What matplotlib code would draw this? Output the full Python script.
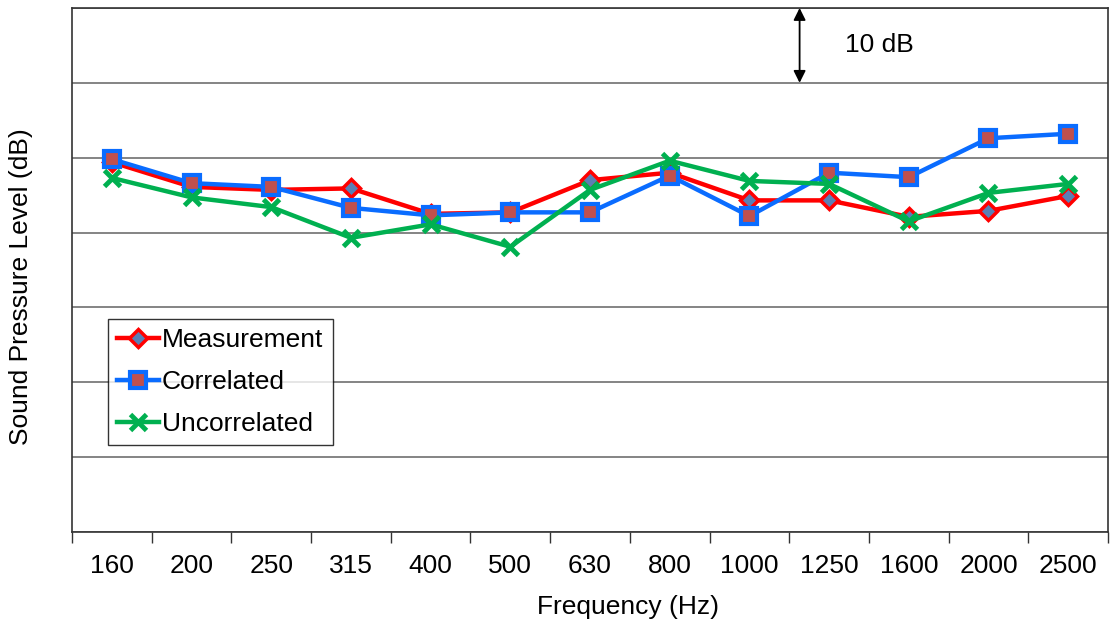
import matplotlib
matplotlib.use("Agg")
import matplotlib.pyplot as plt
import numpy as np

plt.rcParams['font.family'] = ['Liberation Sans', 'DejaVu Sans']

freqs = ['160', '200', '250', '315', '400', '500', '630', '800',
         '1000', '1250', '1600', '2000', '2500']
measurement = [49.4, 46.1, 45.7, 45.9, 42.5, 42.7, 47.0, 48.0, 44.3, 44.3, 42.1, 42.9, 44.9]
correlated = [49.8, 46.6, 46.1, 43.3, 42.3, 42.7, 42.7, 47.6, 42.2, 48.0, 47.4, 52.6, 53.2]
uncorrelated = [47.3, 44.7, 43.4, 39.3, 41.1, 38.1, 45.7, 49.6, 46.9, 46.5, 41.5, 45.3, 46.5]

fig = plt.figure(figsize=(11.1, 6.24), dpi=100)
ax = fig.add_axes([0.0649, 0.1474, 0.9333, 0.8398])

x = np.arange(len(freqs))

ax.plot(x, measurement, color='#FF0000', lw=3.2, marker='D', ms=9,
        mfc='#5A7FB5', mec='#FF0000', mew=2.5, label='Measurement', zorder=2)
ax.plot(x, correlated, color='#0A6CFF', lw=3.2, marker='s', ms=12,
        mfc='#C0504D', mec='#0A6CFF', mew=3, label='Correlated', zorder=3)
ax.plot(x, uncorrelated, color='#00B050', lw=3.2, marker='x', ms=11,
        mec='#00B050', mew=3.5, label='Uncorrelated', zorder=4)

ax.set_xlim(-0.5, len(freqs) - 0.5)
ax.set_ylim(0, 70)

# category boundaries carry the tick marks, labels sit in the middle
ax.set_xticks(np.arange(-0.5, len(freqs), 1.0))
ax.set_xticklabels([])
ax.set_xticks(x, minor=True)
ax.set_xticklabels(freqs, minor=True, fontsize=19)
ax.tick_params(axis='x', which='major', length=8, width=1, color='#333333')
ax.tick_params(axis='x', which='minor', length=0, pad=16)
ax.set_yticks(np.arange(0, 71, 10))
ax.set_yticklabels([])
ax.tick_params(axis='y', length=0)
ax.grid(axis='y', color='#707070', lw=1.2)
ax.set_axisbelow(True)
for s in ax.spines.values():
    s.set_color('#333333')
    s.set_linewidth(1.2)

ax.set_xlabel('Frequency (Hz)', fontsize=19)
ax.xaxis.set_label_coords(0.537, -0.121)
ax.set_ylabel('Sound Pressure Level (dB)', fontsize=19)
ax.yaxis.set_label_coords(-0.038, 0.468)

# 10 dB scale marker
ax.annotate('', xy=(8.63, 70), xytext=(8.63, 60),
            arrowprops=dict(arrowstyle='<|-|>', color='black', lw=1.3,
                            mutation_scale=18, shrinkA=0, shrinkB=0))
ax.text(9.2, 65.1, '10 dB', fontsize=19, va='center', ha='left')

leg = ax.legend(loc='upper left', bbox_to_anchor=(0.0347, 0.4065), fontsize=19,
                frameon=True, fancybox=False, borderpad=0.35, labelspacing=0.68,
                handlelength=1.6, handletextpad=0.1, borderaxespad=0)
leg.get_frame().set_edgecolor('black')
leg.get_frame().set_linewidth(1.0)

fig.savefig('out.png', dpi=100)
